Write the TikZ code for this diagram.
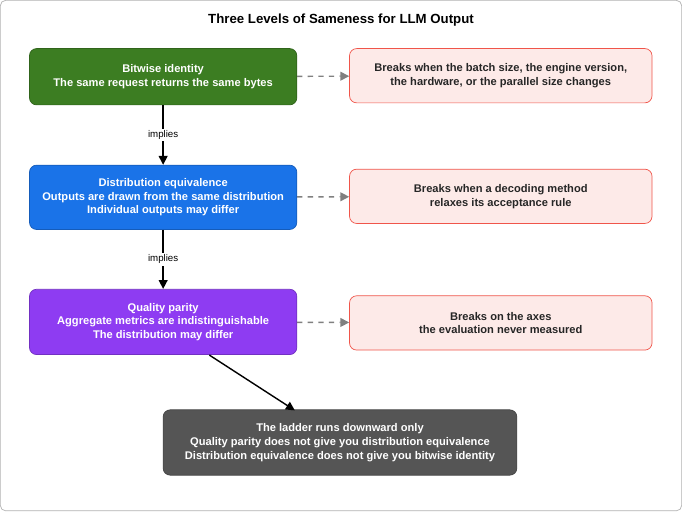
\documentclass[tikz,border=0pt]{standalone}
\usepackage{fontspec}
\setmainfont{Liberation Sans}
\usetikzlibrary{arrows.meta}
\definecolor{lgreen}{HTML}{3C7D22}
\definecolor{lblue}{HTML}{1A73E8}
\definecolor{lpurple}{HTML}{8E3CF2}
\definecolor{lgrey}{HTML}{555555}
\definecolor{lpink}{HTML}{FDEAE8}
\definecolor{lred}{HTML}{F0554A}
\begin{document}
\begin{tikzpicture}[x=0.02cm, y=-0.02cm,
                      level/.style = {draw = #1!80!black, fill = #1, rounded corners = 4pt, text = white,
                                      minimum width = 266*0.02cm, align = center,
                                      font = \fontsize{6.3}{7.8}\selectfont\bfseries},
                      risk/.style = {draw = lred, fill = lpink, rounded corners = 4pt, text = black!85,
                                     minimum width = 301*0.02cm, minimum height = 54*0.02cm, align = center,
                                     font = \fontsize{6.3}{7.8}\selectfont\bfseries},
                      implies/.style = {-{Triangle[length=5pt, width=5pt]}, line width = 0.8pt},
                      breaks/.style = {-{Triangle[length=5pt, width=5pt]}, dashed, gray, line width = 0.8pt},
                      lab/.style = {fill = white, font = \fontsize{5.5}{6.5}\selectfont, inner sep = 1pt}]
    \draw [gray!60, rounded corners = 3pt, fill = white] (2, 2) rectangle (680, 510);
    \node [font = \fontsize{7.5}{9}\selectfont\bfseries] (title) at (341, 22) {Three Levels of Sameness for LLM Output};

    \node [level = lgreen, minimum height = 56*0.02cm] (bit) at (164, 78)
        {Bitwise identity\\The same request returns the same bytes};
    \node [level = lblue, minimum height = 64*0.02cm] (dist) at (164, 198)
        {Distribution equivalence\\Outputs are drawn from the same distribution\\Individual outputs may differ};
    \node [level = lpurple, minimum height = 65*0.02cm] (qual) at (164, 322)
        {Quality parity\\Aggregate metrics are indistinguishable\\The distribution may differ};
    \node [level = lgrey, minimum width = 352*0.02cm, minimum height = 65*0.02cm] (ladder) at (340, 442)
        {The ladder runs downward only\\Quality parity does not give you distribution equivalence\\Distribution equivalence does not give you bitwise identity};

    \node [risk] (rbit) at (500, 77)
        {Breaks when the batch size, the engine version,\\the hardware, or the parallel size changes};
    \node [risk] (rdist) at (500, 197)
        {Breaks when a decoding method\\relaxes its acceptance rule};
    \node [risk] (rqual) at (500, 323)
        {Breaks on the axes\\the evaluation never measured};

    \coordinate (qs) at (210, 355);
    \coordinate (le) at (295, 410);
    \draw [implies] (bit) -- node [lab] {implies} (dist);
    \draw [implies] (dist) -- node [lab] {implies} (qual);
    \draw [implies] (qs) -- (le);
    \draw [breaks] (bit) -- (rbit);
    \draw [breaks] (dist) -- (rdist);
    \draw [breaks] (qual) -- (rqual);
\end{tikzpicture}
\end{document}
